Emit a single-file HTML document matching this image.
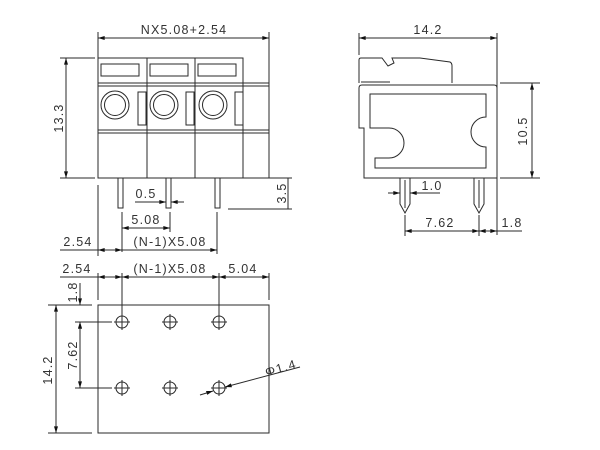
<!DOCTYPE html>
<html><head><style>
html,body{margin:0;padding:0;background:#fff;}
svg{display:block;}
text{font-family:"Liberation Sans",sans-serif;font-size:12.5px;fill:#333;letter-spacing:1.2px;}
</style></head><body>
<svg width="600" height="450" viewBox="0 0 600 450" xmlns="http://www.w3.org/2000/svg">
<defs>
<marker id="a" viewBox="0 0 10 6" refX="10" refY="3" markerWidth="7" markerHeight="4" orient="auto-start-reverse"><path d="M0,0L10,3L0,6z" fill="#111"/></marker>
</defs>
<g stroke="#2a2a2a" stroke-width="1" fill="none">
<!-- FRONT VIEW -->
<rect x="98" y="58" width="49" height="25"/><rect x="147" y="58" width="48" height="25"/><rect x="195" y="58" width="48" height="25"/>
<rect x="101" y="64" width="38" height="12"/><rect x="150" y="64" width="38" height="12"/><rect x="198" y="64" width="38" height="12"/>
<rect x="98" y="83" width="171" height="95"/>
<line x1="98" y1="86" x2="269" y2="86"/>
<line x1="98" y1="130" x2="269" y2="130"/><line x1="98" y1="133" x2="269" y2="133"/>
<line x1="147" y1="83" x2="147" y2="178"/><line x1="195" y1="83" x2="195" y2="178"/><line x1="243" y1="83" x2="243" y2="178"/>
<circle cx="115" cy="105" r="14"/><circle cx="115" cy="105" r="10.5"/>
<circle cx="164" cy="105" r="14"/><circle cx="164" cy="105" r="10.5"/>
<circle cx="213" cy="105" r="14"/><circle cx="213" cy="105" r="10.5"/>
<rect x="138" y="92" width="8" height="33"/><rect x="186" y="92" width="8" height="33"/><rect x="235" y="92" width="8" height="33"/>
<rect x="118" y="178" width="5" height="30"/><rect x="166" y="178" width="5" height="30"/><rect x="215" y="178" width="5" height="30"/>
<!-- front dims -->
<line x1="98" y1="32" x2="98" y2="92"/><line x1="269" y1="32" x2="269" y2="83"/>
<line x1="98" y1="38" x2="269" y2="38" marker-start="url(#a)" marker-end="url(#a)"/>
<line x1="60" y1="58" x2="95" y2="58"/><line x1="60" y1="178" x2="95" y2="178"/>
<line x1="66" y1="58" x2="66" y2="178" marker-start="url(#a)" marker-end="url(#a)"/>
<line x1="228" y1="178" x2="292" y2="178"/><line x1="228" y1="209" x2="292" y2="209"/>
<line x1="288" y1="178" x2="288" y2="209"/>
<line x1="135" y1="202" x2="166" y2="202" marker-end="url(#a)"/><line x1="184" y1="202" x2="171" y2="202" marker-end="url(#a)"/>
<line x1="122" y1="212" x2="122" y2="252"/><line x1="170" y1="212" x2="170" y2="232"/><line x1="217" y1="212" x2="217" y2="254"/>
<line x1="122" y1="228" x2="170" y2="228" marker-start="url(#a)" marker-end="url(#a)"/>
<line x1="98" y1="185" x2="98" y2="256"/>
<line x1="60" y1="250" x2="98" y2="250"/>
<line x1="98" y1="250" x2="122" y2="250" marker-start="url(#a)" marker-end="url(#a)"/>
<line x1="122" y1="250" x2="217" y2="250" marker-end="url(#a)"/>
<!-- SIDE VIEW -->
<path d="M359,83 L359,60 Q359,58 361,58 L382,58 L388,66 L394,63 L392,58 L420,58 L450,62 Q452,63 452,66 L452,83"/>
<line x1="361" y1="82" x2="390" y2="82"/>
<path d="M362,85 L494,85 Q497,85 497,88 L497,178 L364,178 L364,128 L359,128 L359,88 Q359,85 362,85 Z"/>
<path d="M370,94 L486,94 L486,117 A15,15 0 0 0 486,147 L486,168 L375,168 L375,158 L389,158 A15,15 0 0 0 389,128 L370,128 Z"/>
<path d="M400,178 L400,204 L405,213 L410,204 L410,178"/><line x1="405" y1="180" x2="405" y2="208"/>
<path d="M474,178 L474,204 L479,213 L484,204 L484,178"/><line x1="479" y1="180" x2="479" y2="208"/>
<line x1="359" y1="33" x2="359" y2="55"/><line x1="497" y1="33" x2="497" y2="235"/>
<line x1="359" y1="38" x2="497" y2="38" marker-start="url(#a)" marker-end="url(#a)"/>
<line x1="500" y1="83" x2="540" y2="83"/><line x1="500" y1="178" x2="540" y2="178"/>
<line x1="532" y1="83" x2="532" y2="178" marker-start="url(#a)" marker-end="url(#a)"/>
<line x1="388" y1="193" x2="400" y2="193" marker-end="url(#a)"/><line x1="440" y1="193" x2="410" y2="193" marker-end="url(#a)"/>
<line x1="405" y1="215" x2="405" y2="236"/><line x1="479" y1="215" x2="479" y2="236"/>
<line x1="405" y1="231" x2="479" y2="231" marker-start="url(#a)" marker-end="url(#a)"/>
<line x1="479" y1="231" x2="497" y2="231" marker-start="url(#a)" marker-end="url(#a)"/>
<line x1="497" y1="231" x2="522" y2="231"/>
<!-- BOTTOM VIEW -->
<rect x="98" y="305" width="171" height="128"/>
<line x1="60" y1="277" x2="98" y2="277"/>
<line x1="98" y1="277" x2="122" y2="277" marker-start="url(#a)" marker-end="url(#a)"/>
<line x1="122" y1="277" x2="219" y2="277" marker-start="url(#a)" marker-end="url(#a)"/>
<line x1="219" y1="277" x2="269" y2="277" marker-start="url(#a)" marker-end="url(#a)"/>
<line x1="98" y1="273" x2="98" y2="300"/><line x1="269" y1="273" x2="269" y2="300"/>
<line x1="122" y1="273" x2="122" y2="315"/><line x1="219" y1="273" x2="219" y2="315"/>
<g>
<circle cx="122" cy="322" r="6"/><circle cx="170" cy="322" r="6"/><circle cx="219" cy="322" r="6"/>
<circle cx="122" cy="388" r="6"/><circle cx="170" cy="388" r="6"/><circle cx="219" cy="388" r="6"/>
<path d="M114,322h16M122,314v16M162,322h16M170,314v16M211,322h16M219,314v16M114,388h16M122,380v16M162,388h16M170,380v16M211,388h16M219,380v16"/>
</g>
<line x1="48" y1="305" x2="92" y2="305"/><line x1="48" y1="433" x2="92" y2="433"/>
<line x1="56" y1="305" x2="56" y2="433" marker-start="url(#a)" marker-end="url(#a)"/>
<line x1="75" y1="322" x2="112" y2="322"/><line x1="75" y1="388" x2="112" y2="388"/>
<line x1="80" y1="283" x2="80" y2="305" marker-end="url(#a)"/>
<line x1="80" y1="330" x2="80" y2="322" marker-end="url(#a)"/>
<line x1="80" y1="322" x2="80" y2="388" marker-start="url(#a)" marker-end="url(#a)"/>
<line x1="300" y1="367" x2="225" y2="387" marker-end="url(#a)"/>
<line x1="200" y1="395" x2="213" y2="391" marker-end="url(#a)"/>
</g>
<!-- text -->
<text x="184" y="34" text-anchor="middle">NX5.08+2.54</text>
<text transform="translate(63,118) rotate(-90)" text-anchor="middle">13.3</text>
<text transform="translate(286,193) rotate(-90)" text-anchor="middle">3.5</text>
<text x="146" y="198" text-anchor="middle">0.5</text>
<text x="146" y="224" text-anchor="middle">5.08</text>
<text x="78" y="246" text-anchor="middle">2.54</text>
<text x="170" y="246" text-anchor="middle">(N-1)X5.08</text>
<text x="428" y="34" text-anchor="middle">14.2</text>
<text transform="translate(527,131) rotate(-90)" text-anchor="middle">10.5</text>
<text x="432" y="190" text-anchor="middle">1.0</text>
<text x="440" y="227" text-anchor="middle">7.62</text>
<text x="512" y="227" text-anchor="middle">1.8</text>
<text x="77" y="273" text-anchor="middle">2.54</text>
<text x="170" y="273" text-anchor="middle">(N-1)X5.08</text>
<text x="243" y="273" text-anchor="middle">5.04</text>
<text transform="translate(77,292) rotate(-90)" text-anchor="middle">1.8</text>
<text transform="translate(77,355) rotate(-90)" text-anchor="middle">7.62</text>
<text transform="translate(52,370) rotate(-90)" text-anchor="middle">14.2</text>
<text transform="translate(282,372) rotate(-16)" text-anchor="middle">Φ1.4</text>
</svg>
</body></html>
